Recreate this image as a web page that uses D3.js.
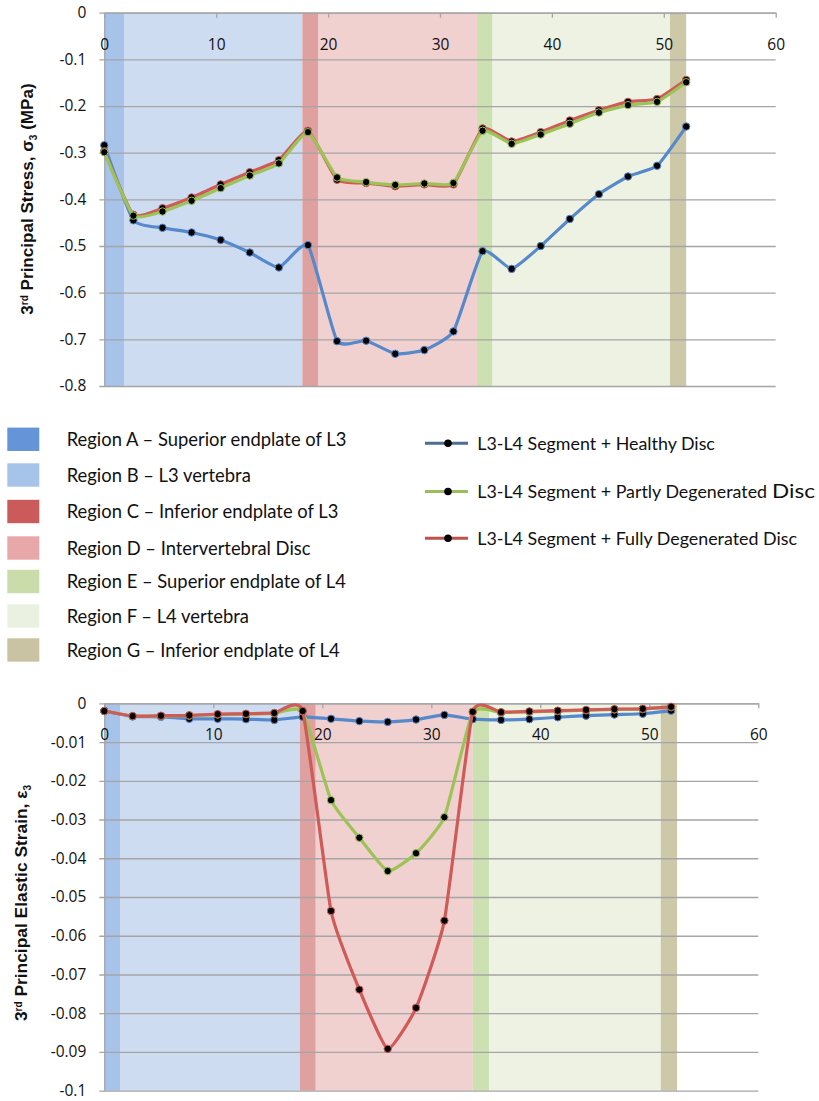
<!DOCTYPE html>
<html>
<head>
<meta charset="utf-8">
<script src="https://cdn.jsdelivr.net/npm/d3@7"></script>
<style>
  body { margin: 0; background: #fff; }
  svg { display: block; }
</style>
</head>
<body>
<svg id="fig" width="819" height="1101"></svg>
<script>
// Distance along the L3-L4 segment (measurement path positions)
const positions = [0, 2.6, 5.2, 7.8, 10.4, 13, 15.6, 18.2, 20.8, 23.4, 26, 28.6, 31.2, 33.8, 36.4, 39, 41.6, 44.2, 46.8, 49.4, 52];

// 3rd principal stress, sigma3 (MPa)
const stressHealthy = [-0.284, -0.445, -0.461, -0.471, -0.487, -0.514, -0.546, -0.498, -0.704, -0.703, -0.731, -0.723, -0.683, -0.511, -0.549, -0.500, -0.442, -0.389, -0.351, -0.328, -0.244];
const stressPartly  = [-0.299, -0.435, -0.426, -0.403, -0.376, -0.349, -0.323, -0.256, -0.353, -0.363, -0.369, -0.366, -0.365, -0.253, -0.281, -0.261, -0.238, -0.214, -0.198, -0.191, -0.149];
const stressFully   = [-0.297, -0.433, -0.419, -0.396, -0.368, -0.342, -0.316, -0.253, -0.358, -0.365, -0.372, -0.368, -0.368, -0.248, -0.276, -0.256, -0.231, -0.209, -0.191, -0.185, -0.144];

// 3rd principal elastic strain, epsilon3
const strainHealthy = [-0.0020, -0.0034, -0.0035, -0.0040, -0.0040, -0.0041, -0.0043, -0.0035, -0.0040, -0.0046, -0.0048, -0.0042, -0.0030, -0.0041, -0.0043, -0.0041, -0.0036, -0.0032, -0.0029, -0.0027, -0.0019];
const strainPartly  = [-0.0020, -0.0033, -0.0033, -0.0032, -0.0029, -0.0028, -0.0026, -0.0021, -0.0250, -0.0347, -0.0433, -0.0387, -0.0294, -0.0023, -0.0024, -0.0022, -0.0020, -0.0018, -0.0016, -0.0015, -0.0010];
const strainFully   = [-0.0020, -0.0033, -0.0032, -0.0031, -0.0028, -0.0027, -0.0025, -0.0020, -0.0536, -0.0739, -0.0892, -0.0786, -0.0561, -0.0022, -0.0023, -0.0021, -0.0019, -0.0017, -0.0015, -0.0014, -0.0009];

// Anatomical regions along the path
const regionNames = [
  "Region A \u2013 Superior endplate of L3",
  "Region B \u2013 L3 vertebra",
  "Region C \u2013 Inferior endplate of L3",
  "Region D \u2013 Intervertebral Disc",
  "Region E \u2013 Superior endplate of L4",
  "Region F \u2013 L4 vertebra",
  "Region G \u2013 Inferior endplate of L4"
];
const stressRegionEdges = [0, 1.76, 17.7, 19.1, 33.3, 34.7, 50.55, 52.0];
const strainRegionEdges = [0, 1.44, 17.95, 19.4, 33.8, 35.3, 51.05, 52.55];

// Series names
const seriesNames = [
  "L3-L4 Segment + Healthy Disc",
  "L3-L4 Segment + Partly Degenerated",
  "L3-L4 Segment + Fully Degenerated Disc"
];
const partlyTail = "Disc";

// Tick values
const xTicks = [0, 10, 20, 30, 40, 50, 60];
const stressTicks = [0, -0.1, -0.2, -0.3, -0.4, -0.5, -0.6, -0.7, -0.8];
const strainTicks = [0, -0.01, -0.02, -0.03, -0.04, -0.05, -0.06, -0.07, -0.08, -0.09, -0.1];

// ---- styling ----
const bandFill   = ["#a7c3ea", "#cedcf2", "#dfa0a0", "#f1d0d0", "#cde0b2", "#eef2e3", "#cdc8a8"];
const swatchFill = ["#6595d8", "#a6c3ea", "#cb5b5b", "#e8a7a8", "#c9dca9", "#ebf1e1", "#c9c3a3"];
const lineColor  = ["#5589cc", "#9cc356", "#cf5a57"];
const keyColor   = ["#4d6d92", "#9cbd5c", "#c0504d"];
const gridColor  = "#a5a5a5";
const tickFont   = "'Open Sans', sans-serif";
const legendFont = "Lato, 'Open Sans', sans-serif";

const svg = d3.select("#fig");
svg.append("rect").attr("width", 819).attr("height", 1101).attr("fill", "#fff");

function fmt(d) {
  if (d === 0) return "0";
  return String(+d.toFixed(3));
}

function drawPanel(cfg) {
  const x = d3.scaleLinear().domain([0, 60]).range([cfg.left, cfg.right]);
  const y = d3.scaleLinear().domain(cfg.yDomain).range([cfg.bottom, cfg.top]);
  const g = svg.append("g");

  // region bands
  g.append("g").selectAll("rect")
    .data(d3.range(cfg.edges.length - 1))
    .join("rect")
    .attr("x", i => x(cfg.edges[i]))
    .attr("width", i => x(cfg.edges[i + 1]) - x(cfg.edges[i]))
    .attr("y", y(0))
    .attr("height", y(cfg.yDomain[0]) - y(0))
    .attr("fill", i => bandFill[i]);

  // value axis with horizontal gridlines
  const ya = g.append("g")
    .attr("transform", `translate(${x(0)},0)`)
    .call(d3.axisLeft(y).tickValues(cfg.yTicks).tickFormat(fmt)
      .tickSize(-(cfg.right - cfg.left)).tickSizeOuter(0).tickPadding(18));
  ya.selectAll(".tick line").attr("x1", -5).attr("stroke", gridColor).attr("stroke-width", 1.3);
  ya.select(".domain").attr("stroke", gridColor).attr("stroke-width", 1.3);
  ya.selectAll("text").attr("font-family", tickFont).attr("font-size", 15.5).attr("fill", "#111");

  // category axis along the zero line
  const xa = g.append("g")
    .attr("transform", `translate(0,${y(0)})`)
    .call(d3.axisBottom(x).tickValues(xTicks).tickSize(5).tickSizeOuter(0).tickPadding(21));
  xa.select(".domain").attr("stroke", gridColor).attr("stroke-width", 1.3);
  xa.selectAll(".tick line").attr("stroke", gridColor).attr("stroke-width", 1.3);
  xa.selectAll("text").attr("font-family", tickFont).attr("font-size", 15.5).attr("fill", "#111");

  // series
  const line = d3.line()
    .x((d, i) => x(positions[i]))
    .y(d => y(d))
    .curve(d3.curveCardinal.tension(0.55));

  cfg.order.forEach(k => {
    const vals = cfg.series[k];
    const sg = g.append("g");
    sg.append("path")
      .attr("d", line(vals))
      .attr("fill", "none")
      .attr("stroke", lineColor[k])
      .attr("stroke-width", 3.2)
      .attr("stroke-linejoin", "round")
      .attr("stroke-linecap", "round");
    sg.selectAll("circle").data(vals).join("circle")
      .attr("cx", (d, i) => x(positions[i]))
      .attr("cy", d => y(d))
      .attr("r", 3.7)
      .attr("fill", "#000")
      .attr("stroke", lineColor[k])
      .attr("stroke-width", 1);
  });

  // axis title
  const t = g.append("text")
    .attr("transform", `translate(${cfg.titleX},${cfg.titleY}) rotate(-90)`)
    .attr("text-anchor", "middle")
    .attr("font-family", "'Liberation Sans', Arial, sans-serif")
    .attr("font-weight", "bold")
    .attr("font-size", 14)
    .attr("fill", "#111");
  t.append("tspan").text("3");
  t.append("tspan").text("rd").attr("font-size", 10).attr("dy", -5);
  t.append("tspan").text(cfg.titleMid).attr("dy", 5);
  t.append("tspan").text("3").attr("font-size", 10).attr("dy", 4);
  t.append("tspan").text(cfg.titleEnd).attr("dy", -4);
  const w = t.node().getComputedTextLength();
  t.attr("font-size", 14 * cfg.titleLen / w);
}

drawPanel({
  left: 104.3, right: 775.7, top: 12.7, bottom: 386,
  yDomain: [-0.8, 0], yTicks: stressTicks, edges: stressRegionEdges,
  series: [stressHealthy, stressPartly, stressFully], order: [0, 2, 1],
  titleX: 33, titleY: 199, titleLen: 235,
  titleMid: " Principal Stress, \u03c3", titleEnd: " (MPa)"
});

drawPanel({
  left: 104.3, right: 758.3, top: 703.3, bottom: 1090.7,
  yDomain: [-0.1, 0], yTicks: strainTicks, edges: strainRegionEdges,
  series: [strainHealthy, strainPartly, strainFully], order: [0, 1, 2],
  titleX: 27, titleY: 903, titleLen: 240,
  titleMid: " Principal Elastic Strain, \u03b5", titleEnd: ""
});

// ---- region legend ----
const regionRowY = [439.3, 475, 511.5, 548, 581.5, 616, 650];
const rl = svg.append("g");
rl.selectAll("rect").data(regionNames).join("rect")
  .attr("x", 7.3).attr("width", 32)
  .attr("y", (d, i) => regionRowY[i] - 11.7).attr("height", 23.4)
  .attr("fill", (d, i) => swatchFill[i]);
const rlText = rl.selectAll("text").data(regionNames).join("text")
  .attr("x", 66.7).attr("y", (d, i) => regionRowY[i]).attr("dy", "0.36em")
  .attr("font-family", legendFont).attr("font-size", 18).attr("fill", "#111")
  .text(d => d);
{
  const w = rlText.nodes()[0].getComputedTextLength();
  rlText.attr("font-size", 18 * 280 / w);
}

// ---- series legend ----
const seriesRowY = [443.3, 491.5, 538.3];
const sl = svg.append("g");
const rows = sl.selectAll("g").data(seriesNames).join("g")
  .attr("transform", (d, i) => `translate(0,${seriesRowY[i]})`);
rows.append("line").attr("x1", 425).attr("x2", 468).attr("y1", 0).attr("y2", 0)
  .attr("stroke", (d, i) => keyColor[i]).attr("stroke-width", 3);
rows.append("circle").attr("cx", 448).attr("cy", 0).attr("r", 3.8).attr("fill", "#000");
const slText = rows.append("text")
  .attr("x", 477.3).attr("dy", "0.36em")
  .attr("font-family", legendFont).attr("font-size", 17).attr("fill", "#111")
  .text(d => d);
{
  const w = slText.nodes()[0].getComputedTextLength();
  slText.attr("font-size", 17 * 237.7 / w);
}
// trailing word of the second entry is set larger, after the measured text
{
  const endX = 477.3 + slText.nodes()[1].getComputedTextLength() + 5;
  const tailW = Math.max(30, 815 - endX);
  svg.append("text")
    .attr("x", endX).attr("y", seriesRowY[1]).attr("dy", "0.36em")
    .attr("font-family", legendFont).attr("font-size", 19).attr("fill", "#111")
    .attr("textLength", tailW).attr("lengthAdjust", "spacingAndGlyphs")
    .text(partlyTail);
}
</script>
</body>
</html>
